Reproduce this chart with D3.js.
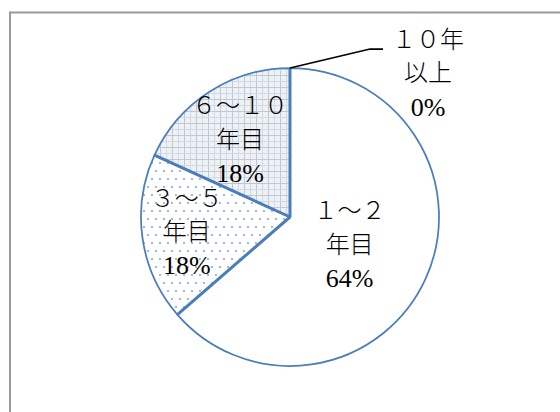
<!DOCTYPE html>
<html>
<head>
<meta charset="utf-8">
<script src="https://cdn.jsdelivr.net/npm/d3@7"></script>
<style>
  body { margin: 0; background: #fff; }
  text { font-family: "Liberation Serif", "Noto Sans CJK JP", serif; fill: #000; }
</style>
</head>
<body>
<div id="chart"></div>
<script>
// Chart data
var categories = [["１～２", "年目"], ["３～５", "年目"], ["６～１０", "年目"], ["１０年", "以上"]];
var counts = [7, 2, 2, 0];

var svgWidth = 560;
var svgHeight = 412;

var cx = 290, cy = 217, radius = 149;
var lineGap = 33.5;

var svg = d3.select("#chart")
  .append("svg")
  .attr("width", svgWidth)
  .attr("height", svgHeight);

// patterns for the slices
var defs = svg.append("defs");

var dots = defs.append("pattern")
  .attr("id", "dots")
  .attr("patternUnits", "userSpaceOnUse")
  .attr("width", 16).attr("height", 16);
dots.append("rect").attr("width", 16).attr("height", 16).attr("fill", "#fff");
[[1, 1], [9, 1], [5, 9], [13, 9]].forEach(function(p) {
  dots.append("rect")
    .attr("x", p[0]).attr("y", p[1])
    .attr("width", 2).attr("height", 2)
    .attr("fill", "#9fb9de");
});

var plaid = defs.append("pattern")
  .attr("id", "plaid")
  .attr("patternUnits", "userSpaceOnUse")
  .attr("width", 12).attr("height", 12);
plaid.append("rect").attr("width", 12).attr("height", 12).attr("fill", "#eef2f6");
plaid.append("rect").attr("x", 2).attr("width", 1).attr("height", 12).attr("fill", "#bfc7d0");
plaid.append("rect").attr("x", 8).attr("width", 1).attr("height", 12).attr("fill", "#d3dae2");
plaid.append("rect").attr("y", 2).attr("width", 12).attr("height", 1).attr("fill", "#bfc7d0");
plaid.append("rect").attr("y", 8).attr("width", 12).attr("height", 1).attr("fill", "#d3dae2");

var fills = ["#ffffff", "url(#dots)", "url(#plaid)", "#ffffff"];
var labelR = [0.44, 0.70, 0.62];

// chart border (runs off the right and bottom edges)
svg.append("rect")
  .attr("x", 10)
  .attr("y", 12.5)
  .attr("width", 700)
  .attr("height", 600)
  .attr("fill", "none")
  .attr("stroke", "#999")
  .attr("stroke-width", 2);

var total = d3.sum(counts);
var pie = d3.pie().sort(null).value(d => d);
var arcs = pie(counts);

var arc = d3.arc().innerRadius(0).outerRadius(radius);

var chartGroup = svg.append("g")
  .attr("transform", `translate(${cx}, ${cy})`);

chartGroup.selectAll("path.slice")
  .data(arcs)
  .enter()
  .append("path")
  .attr("class", "slice")
  .attr("d", arc)
  .attr("fill", (d, i) => fills[i])
  .attr("stroke", "#4a7ebb")
  .attr("stroke-width", 1.75)
  .attr("stroke-linejoin", "round");

// thicker radial edges
chartGroup.selectAll("line.edge")
  .data(arcs.filter(d => d.value > 0))
  .enter()
  .append("line")
  .attr("class", "edge")
  .attr("x1", 0).attr("y1", 0)
  .attr("x2", d => radius * Math.sin(d.startAngle))
  .attr("y2", d => -radius * Math.cos(d.startAngle))
  .attr("stroke", "#4a7ebb")
  .attr("stroke-width", 3);

function pct(v) { return Math.round(v / total * 100) + "%"; }

function addLabel(x, y, lines) {
  var t = chartGroup.append("text")
    .attr("text-anchor", "middle")
    .attr("font-size", "24px");
  lines.forEach(function(s, j) {
    t.append("tspan")
      .attr("x", x)
      .attr("y", y + (j - 1) * lineGap)
      .attr("dy", "0.35em")
      .attr("font-size", j === 2 ? "26px" : null)
      .attr("font-weight", j === 2 ? null : 300)
      .text(s);
  });
}

// labels inside the slices
arcs.forEach(function(d, i) {
  if (d.value === 0) return;
  var mid = (d.startAngle + d.endAngle) / 2;
  var r = radius * labelR[i];
  addLabel(r * Math.sin(mid), -r * Math.cos(mid), categories[i].concat([pct(d.value)]));
});

// callout for the empty slice
arcs.forEach(function(d, i) {
  if (d.value !== 0) return;
  var ax = radius * Math.sin(d.startAngle);
  var ay = -radius * Math.cos(d.startAngle);
  chartGroup.append("polyline")
    .attr("points", [[ax, ay], [80, -168], [93, -168]].map(p => p.join(",")).join(" "))
    .attr("fill", "none")
    .attr("stroke", "#000")
    .attr("stroke-width", 1.75);
  addLabel(138, -144, categories[i].concat([pct(d.value)]));
});
</script>
</body>
</html>
